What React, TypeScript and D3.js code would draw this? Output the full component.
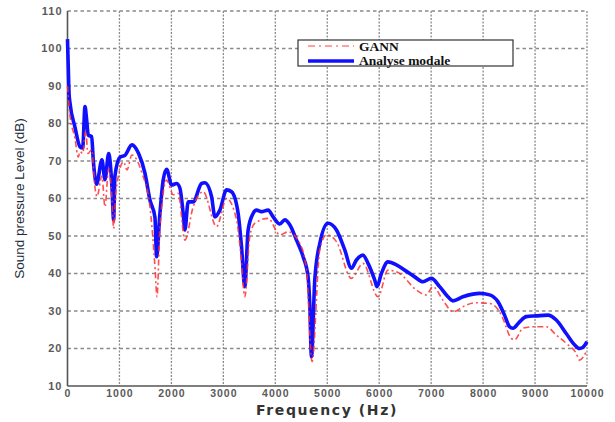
import { useEffect, useRef } from 'react';
import * as d3 from 'd3';

// Analyse modale (blue, solid) — [frequency Hz, dB]
const modalFreq = [0, 15, 30, 48, 144, 240, 292, 337, 369, 400, 465, 496, 560, 663, 721, 792, 856, 888, 913, 1010, 1106, 1240, 1369, 1490, 1587, 1683, 1715, 1779, 1842, 1908, 2004, 2100, 2163, 2227, 2260, 2323, 2419, 2581, 2644, 2773, 2837, 2933, 3062, 3158, 3285, 3350, 3413, 3477, 3573, 3638, 3735, 3862, 3958, 4087, 4183, 4279, 4408, 4535, 4631, 4663, 4696, 4760, 4856, 5015, 5177, 5337, 5465, 5562, 5688, 5785, 5913, 5958, 6042, 6169, 6331, 6490, 6683, 6842, 7004, 7163, 7323, 7419, 7612, 7804, 7933, 8125, 8285, 8413, 8510, 8573, 8702, 8831, 9023, 9246, 9408, 9600, 9760, 9856, 9919, 10000];
const modalDb = [102.5, 95, 88, 85.5, 79, 73.8, 73.5, 84.5, 80.9, 76.9, 76.5, 70.3, 63.8, 70.3, 65, 72, 63, 54.3, 66, 71, 71.5, 74.3, 72, 66.8, 59.6, 55, 44.5, 56, 64.9, 67.8, 63.6, 64, 62.8, 56, 51.6, 59.1, 59.1, 64, 64.2, 60.5, 55.1, 56.9, 62.3, 61.8, 56, 47.1, 36.5, 51.6, 56, 56.9, 56.5, 56.9, 55.1, 53.2, 54.3, 53, 48.9, 44.5, 39.1, 32, 17.8, 38.3, 48, 53.4, 51.6, 46.3, 41.4, 43.6, 44.9, 42.7, 38.3, 36.5, 40, 43.1, 42.3, 40.9, 39.1, 37.8, 38.7, 36.5, 33.8, 32.7, 33.8, 34.5, 34.7, 34.3, 32.5, 28.9, 25.8, 25.4, 27.1, 28.5, 28.7, 28.9, 27.6, 24, 21, 20, 20.3, 21.8];

// GANN (red, dash-dot)
const gannFreq = [0, 40, 144, 208, 240, 292, 350, 394, 465, 535, 567, 663, 721, 792, 856, 888, 933, 1081, 1144, 1240, 1433, 1587, 1688, 1721, 1779, 1908, 2035, 2131, 2260, 2419, 2612, 2869, 3062, 3254, 3337, 3413, 3510, 3606, 3862, 4087, 4246, 4471, 4600, 4708, 4856, 4985, 5177, 5465, 5688, 5977, 6169, 6394, 6715, 6908, 7035, 7227, 7419, 7677, 7869, 8125, 8317, 8381, 8542, 8606, 8765, 8958, 9215, 9408, 9600, 9792, 9856, 9985];
const gannDb = [90, 83, 76, 71, 72.5, 72, 78, 72, 73, 62.3, 60.5, 66, 57.8, 68, 60, 52, 62, 69.8, 67.6, 71.6, 66.8, 57.8, 40.9, 33.8, 52, 64.9, 61, 61.4, 48.9, 57.8, 61.8, 52.5, 60, 54.3, 45, 33.8, 50, 53.4, 54.7, 50.3, 51.1, 48, 41, 16.5, 46.3, 50.3, 48.5, 38.7, 42.7, 33.8, 40.9, 40, 35.6, 34.3, 36.5, 32.9, 29.8, 31.6, 32.2, 32, 29.8, 28, 22.7, 22.3, 25.4, 25.8, 25.8, 23.6, 21.4, 18.7, 16.9, 19.1];

const xTicks = [0, 1000, 2000, 3000, 4000, 5000, 6000, 7000, 8000, 9000, 10000];
const yTicks = [10, 20, 30, 40, 50, 60, 70, 80, 90, 100, 110];

export default function App() {
  const svgRef = useRef<SVGSVGElement>(null);

  useEffect(() => {
    if (!svgRef.current) return;
    const svg = d3.select(svgRef.current);
    svg.selectAll("*").remove();

    const width = 615;
    const height = 422;
    const margin = { top: 11, right: 28, bottom: 36, left: 67.5 };
    const innerWidth = width - margin.left - margin.right;
    const innerHeight = height - margin.top - margin.bottom;

    const x = d3.scaleLinear().domain([0, 10000]).range([0, innerWidth]);
    const y = d3.scaleLinear().domain([10, 110]).range([innerHeight, 0]);

    svg.attr("width", width).attr("height", height);
    svg.append("rect").attr("width", width).attr("height", height).attr("fill", "#fff");

    const g = svg.append("g").attr("transform", `translate(${margin.left},${margin.top})`);

    // grid
    g.selectAll(".grid-x")
      .data(xTicks.slice(1))
      .enter()
      .append("line")
      .attr("x1", d => x(d))
      .attr("x2", d => x(d))
      .attr("y1", 0)
      .attr("y2", innerHeight)
      .attr("stroke", "#8a8a8a")
      .attr("stroke-width", 1.3)
      .attr("stroke-dasharray", "2,1.5");

    g.selectAll(".grid-y")
      .data(yTicks.slice(1))
      .enter()
      .append("line")
      .attr("x1", 0)
      .attr("x2", innerWidth)
      .attr("y1", d => y(d))
      .attr("y2", d => y(d))
      .attr("stroke", "#8a8a8a")
      .attr("stroke-width", 1.3)
      .attr("stroke-dasharray", "3.5,3");

    // axes lines
    g.append("line")
      .attr("x1", 0).attr("x2", 0).attr("y1", 0).attr("y2", innerHeight)
      .attr("stroke", "#555").attr("stroke-width", 1.6);
    g.append("line")
      .attr("x1", 0).attr("x2", innerWidth).attr("y1", innerHeight).attr("y2", innerHeight)
      .attr("stroke", "#555").attr("stroke-width", 1.6);

    // tick labels
    g.selectAll(".ylab")
      .data(yTicks)
      .enter()
      .append("text")
      .attr("x", -5)
      .attr("y", d => y(d))
      .attr("dy", "0.35em")
      .attr("text-anchor", "end")
      .attr("font-family", "Liberation Sans, Arial, sans-serif")
      .attr("font-weight", "bold")
      .attr("font-size", 11)
      .attr("letter-spacing", 1)
      .attr("fill", "#5a5a5a")
      .text(d => d);

    g.selectAll(".xlab")
      .data(xTicks)
      .enter()
      .append("text")
      .attr("x", d => x(d) + 0.5)
      .attr("y", innerHeight + 11)
      .attr("text-anchor", "middle")
      .attr("font-family", "Liberation Sans, Arial, sans-serif")
      .attr("font-weight", "bold")
      .attr("font-size", 10.5)
      .attr("letter-spacing", 1)
      .attr("fill", "#5a5a5a")
      .text(d => d);

    // curves
    const line = d3.line<[number, number]>()
      .x(d => x(d[0]))
      .y(d => y(d[1]))
      .curve(d3.curveMonotoneX);

    const gann = gannFreq.map((f, i) => [f, gannDb[i]] as [number, number]);
    const modal = modalFreq.map((f, i) => [f, modalDb[i]] as [number, number]);

    g.append("path")
      .datum(modal)
      .attr("d", line)
      .attr("fill", "none")
      .attr("stroke", "#1010ff")
      .attr("stroke-width", 3.6)
      .attr("stroke-linejoin", "round");

    g.append("path")
      .datum(gann)
      .attr("d", line)
      .attr("fill", "none")
      .attr("stroke", "#ff3030")
      .attr("stroke-opacity", 0.85)
      .attr("stroke-width", 1.6)
      .attr("stroke-dasharray", "6,3,2,3");

    // legend
    const lg = svg.append("g").attr("transform", "translate(298,40)");
    lg.append("rect")
      .attr("width", 215).attr("height", 26)
      .attr("fill", "#fff").attr("stroke", "#333").attr("stroke-width", 1.2);
    lg.append("line")
      .attr("x1", 10).attr("x2", 56).attr("y1", 6).attr("y2", 6)
      .attr("stroke", "#ff3030").attr("stroke-opacity", 0.6).attr("stroke-width", 1.6)
      .attr("stroke-dasharray", "7,4,2,4");
    lg.append("line")
      .attr("x1", 10).attr("x2", 56).attr("y1", 21).attr("y2", 21)
      .attr("stroke", "#1010ff").attr("stroke-width", 3.6);
    lg.append("text")
      .attr("x", 61).attr("y", 10.5)
      .attr("font-family", "Liberation Serif, Times New Roman, serif")
      .attr("font-weight", "bold").attr("font-size", 13.5).attr("fill", "#111")
      .text("GANN");
    lg.append("text")
      .attr("x", 61).attr("y", 25)
      .attr("font-family", "Liberation Serif, Times New Roman, serif")
      .attr("font-weight", "bold").attr("font-size", 13.5).attr("fill", "#111")
      .text("Analyse modale");

    // axis titles
    svg.append("text")
      .attr("transform", `translate(24,${margin.top + innerHeight / 2}) rotate(-90)`)
      .attr("text-anchor", "middle")
      .attr("font-family", "Liberation Sans Narrow, Arial Narrow, sans-serif")
      .attr("font-size", 13.5)
      .attr("fill", "#222a3a")
      .text("Sound pressure Level (dB)");

    svg.append("text")
      .attr("x", 327)
      .attr("y", 415)
      .attr("text-anchor", "middle")
      .attr("font-family", "DejaVu Sans, Verdana, sans-serif")
      .attr("font-weight", "bold")
      .attr("font-size", 14)
      .attr("letter-spacing", 1.6)
      .attr("fill", "#333")
      .text("Frequency (Hz)");
  }, []);

  return (
    <svg ref={svgRef} style={{ position: "absolute", left: 0, top: 0, display: "block" }}></svg>
  );
}
